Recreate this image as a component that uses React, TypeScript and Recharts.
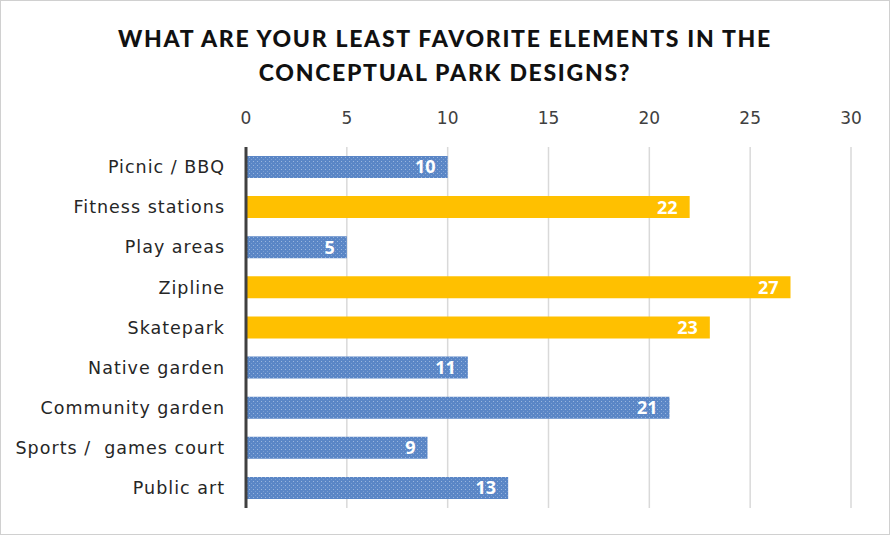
import { BarChart, Bar, XAxis, YAxis, CartesianGrid, Cell, LabelList } from "recharts";

const categories = [
  "Picnic / BBQ",
  "Fitness stations",
  "Play areas",
  "Zipline",
  "Skatepark",
  "Native garden",
  "Community garden",
  "Sports /\u00a0 games court",
  "Public art",
];
const counts = [10, 22, 5, 27, 23, 11, 21, 9, 13];
const highlighted = ["Fitness stations", "Zipline", "Skatepark"];
const xTicks = [0, 5, 10, 15, 20, 25, 30];

const data = categories.map((name, i) => ({ name, count: counts[i] }));

const BLUE = "#5a86c6";
const GOLD = "#ffc000";
const FONT = "'DejaVu Sans', 'Open Sans', sans-serif";

const App = () => {
  return (
    <div
      style={{
        position: "absolute",
        top: 0,
        left: 0,
        width: 888,
        height: 533,
        border: "1px solid #d0d0d0",
        background: "#fff",
        fontFamily: FONT,
      }}
    >
      <div
        style={{
          position: "absolute",
          top: 20,
          left: 0,
          width: 888,
          textAlign: "center",
          fontFamily: "Lato, 'DejaVu Sans', sans-serif",
          fontWeight: 900,
          fontSize: 23,
          letterSpacing: 1.7,
          lineHeight: "34px",
          color: "#111",
        }}
      >
        WHAT ARE YOUR LEAST FAVORITE ELEMENTS IN THE
        <br />
        CONCEPTUAL PARK DESIGNS?
      </div>
      <BarChart
        width={888}
        height={533}
        data={data}
        layout="vertical"
        margin={{ top: 116, right: 38, left: 0, bottom: 26 }}
        barSize={22}
      >
        <defs>
          <pattern id="dots" width="4" height="4" patternUnits="userSpaceOnUse">
            <rect width="4" height="4" fill={BLUE} />
            <rect x="0" y="0" width="1" height="1" fill="#9ab6de" />
            <rect x="2" y="2" width="1" height="1" fill="#7b9fd2" />
          </pattern>
        </defs>
        <CartesianGrid horizontal={false} stroke="#d9d9d9" strokeWidth={1.5} />
        <XAxis
          type="number"
          orientation="top"
          domain={[0, 30]}
          ticks={xTicks}
          height={30}
          axisLine={false}
          tickLine={false}
          tickMargin={17}
          tick={{ fontSize: 17, fill: "#404040", fontFamily: FONT }}
        />
        <YAxis
          type="category"
          dataKey="name"
          width={245}
          axisLine={{ stroke: "#404040", strokeWidth: 3 }}
          tickLine={false}
          tickMargin={15}
          interval={0}
          tick={{
            fontSize: 17.5,
            fill: "#262626",
            fontFamily: FONT,
            letterSpacing: 1,
          }}
        />
        <Bar dataKey="count" isAnimationActive={false}>
          {data.map((d) => (
            <Cell
              key={d.name}
              fill={highlighted.includes(d.name) ? GOLD : "url(#dots)"}
            />
          ))}
          <LabelList
            dataKey="count"
            position="insideRight"
            offset={12}
            style={{
              fill: "#fff",
              fontWeight: 700,
              fontSize: 18,
              fontFamily: "'Open Sans', sans-serif",
            }}
          />
        </Bar>
      </BarChart>
    </div>
  );
};

export default App;
